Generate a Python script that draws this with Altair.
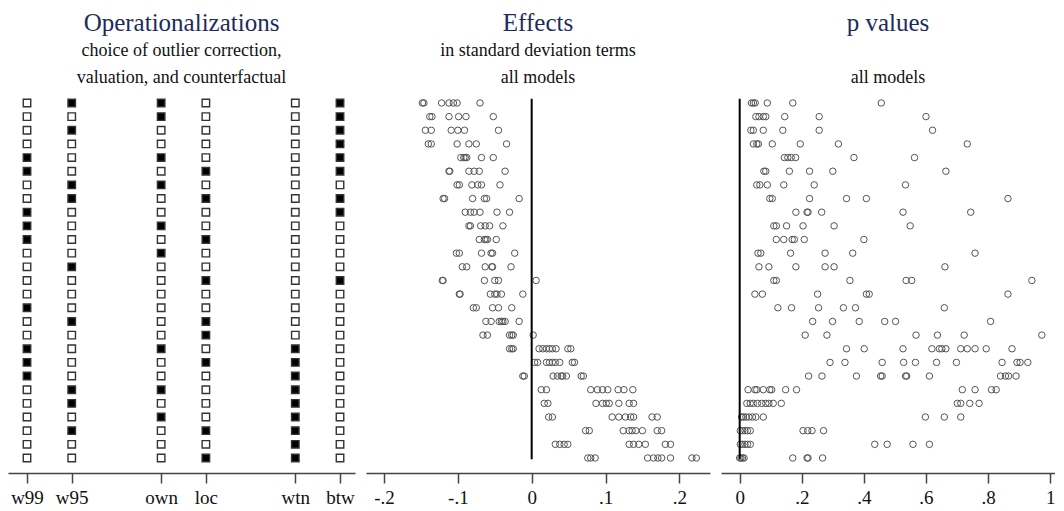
import altair as alt
import pandas as pd

# ---------------- data ----------------
ops_labels = ["w99", "w95", "own", "loc", "wtn", "btw"]
ops_pos = [1, 2, 4, 5, 7, 8]
w99 = [0,0,0,0,1,1,0,0,1,1,1,0,0,0, 0,1,0,0,1,1,1,0,0,0,0,0,0]
w95 = [1,0,1,0,0,0,1,1,0,0,0,0,1,0, 0,0,1,0,0,0,0,1,1,0,1,0,0]
own = [1,1,0,0,1,0,1,0,0,1,0,1,0,0, 0,0,0,0,1,0,0,1,0,1,0,0,0]
loc = [0,0,0,0,0,1,0,1,0,0,1,0,0,1, 0,0,1,1,0,1,0,0,0,0,1,0,1]
wtn = [0,0,0,0,0,0,0,0,0,0,0,0,0,0, 0,0,0,0,1,1,1,1,1,1,1,1,1]
btw = [1,1,1,1,1,1,0,1,1,0,0,0,0,1, 0,0,0,0,0,0,0,0,0,0,0,0,0]

effects = [
    [-0.148, -0.146, -0.122, -0.112, -0.106, -0.101, -0.070],
    [-0.138, -0.135, -0.112, -0.099, -0.089, -0.052],
    [-0.144, -0.136, -0.109, -0.100, -0.091, -0.045],
    [-0.140, -0.136, -0.101, -0.085, -0.075, -0.034],
    [-0.096, -0.092, -0.090, -0.088, -0.068, -0.052],
    [-0.112, -0.111, -0.085, -0.078, -0.071, -0.036],
    [-0.101, -0.098, -0.081, -0.073, -0.068, -0.043],
    [-0.120, -0.118, -0.080, -0.064, -0.061, -0.017],
    [-0.090, -0.083, -0.078, -0.070, -0.047, -0.030],
    [-0.085, -0.083, -0.069, -0.063, -0.057, -0.039],
    [-0.071, -0.064, -0.062, -0.060, -0.048],
    [-0.102, -0.098, -0.068, -0.055, -0.053, -0.023],
    [-0.094, -0.088, -0.063, -0.054, -0.053, -0.028],
    [-0.121, -0.120, -0.064, -0.050, -0.045, 0.006],
    [-0.098, -0.097, -0.056, -0.050, -0.047, -0.041, -0.012],
    [-0.079, -0.075, -0.053, -0.045, -0.027],
    [-0.062, -0.055, -0.044, -0.041, -0.039, -0.036, -0.017],
    [-0.066, -0.060, -0.030, -0.027, -0.025, 0.002],
    [-0.030, -0.027, -0.025, 0.010, 0.015, 0.020, 0.024, 0.028, 0.033, 0.049, 0.053],
    [0.004, 0.008, 0.020, 0.024, 0.028, 0.032, 0.038, 0.055, 0.058],
    [-0.012, -0.010, 0.029, 0.035, 0.040, 0.042, 0.047, 0.067, 0.070],
    [0.013, 0.020, 0.080, 0.089, 0.096, 0.103, 0.117, 0.125, 0.137],
    [0.017, 0.022, 0.087, 0.096, 0.101, 0.105, 0.118, 0.132, 0.138],
    [0.023, 0.028, 0.109, 0.118, 0.127, 0.134, 0.138, 0.163, 0.170],
    [0.073, 0.078, 0.124, 0.132, 0.136, 0.141, 0.150, 0.170, 0.176],
    [0.032, 0.038, 0.044, 0.049, 0.132, 0.138, 0.145, 0.154, 0.181, 0.188],
    [0.076, 0.080, 0.086, 0.157, 0.165, 0.171, 0.176, 0.188, 0.217, 0.223],
]

pvalues = [
    [0.038, 0.044, 0.050, 0.089, 0.171, 0.456],
    [0.052, 0.062, 0.076, 0.084, 0.145, 0.256, 0.600],
    [0.036, 0.044, 0.076, 0.139, 0.256, 0.621],
    [0.044, 0.055, 0.060, 0.105, 0.195, 0.318, 0.733],
    [0.144, 0.155, 0.166, 0.180, 0.368, 0.563],
    [0.078, 0.084, 0.160, 0.225, 0.300, 0.664],
    [0.055, 0.065, 0.089, 0.142, 0.240, 0.534],
    [0.097, 0.105, 0.225, 0.344, 0.408, 0.864],
    [0.181, 0.217, 0.220, 0.264, 0.526, 0.744],
    [0.110, 0.118, 0.151, 0.204, 0.304, 0.549],
    [0.118, 0.142, 0.169, 0.176, 0.208, 0.400],
    [0.059, 0.068, 0.164, 0.275, 0.364, 0.758],
    [0.062, 0.094, 0.181, 0.275, 0.304, 0.661],
    [0.110, 0.118, 0.355, 0.536, 0.554, 0.941],
    [0.049, 0.073, 0.251, 0.408, 0.417, 0.864],
    [0.123, 0.167, 0.254, 0.334, 0.373, 0.659],
    [0.235, 0.299, 0.385, 0.467, 0.502, 0.808],
    [0.211, 0.281, 0.568, 0.637, 0.723, 0.973],
    [0.344, 0.401, 0.526, 0.619, 0.643, 0.651, 0.664, 0.712, 0.733, 0.758, 0.794, 0.877],
    [0.291, 0.339, 0.459, 0.528, 0.566, 0.634, 0.698, 0.845, 0.893, 0.903, 0.928],
    [0.222, 0.265, 0.376, 0.454, 0.459, 0.534, 0.538, 0.611, 0.840, 0.856, 0.866, 0.890],
    [0.027, 0.049, 0.055, 0.076, 0.097, 0.103, 0.148, 0.183, 0.717, 0.758, 0.811, 0.826],
    [0.023, 0.034, 0.044, 0.057, 0.071, 0.084, 0.094, 0.108, 0.134, 0.701, 0.712, 0.741, 0.771],
    [0.006, 0.012, 0.020, 0.030, 0.041, 0.052, 0.076, 0.598, 0.659, 0.712],
    [0.002, 0.009, 0.017, 0.025, 0.034, 0.204, 0.219, 0.233, 0.270],
    [0.002, 0.009, 0.017, 0.025, 0.034, 0.435, 0.475, 0.558, 0.611],
    [0.000, 0.004, 0.009, 0.014, 0.171, 0.217, 0.220, 0.267],
]

# ---------------- tables ----------------
ops_cols = [w99, w95, own, loc, wtn, btw]
ops_rows = []
for lab, pos, col in zip(ops_labels, ops_pos, ops_cols):
    for i, v in enumerate(col):
        ops_rows.append({"op": lab, "pos": pos, "row": i + 1, "on": v})
ops_df = pd.DataFrame(ops_rows)

eff_df = pd.DataFrame([{"row": i + 1, "v": v} for i, r in enumerate(effects) for v in r])
p_df = pd.DataFrame([{"row": i + 1, "v": v} for i, r in enumerate(pvalues) for v in r])
zero_df = pd.DataFrame([{"x": 0.0, "y1": 0.7, "y2": 27.1}])

FONT = "Liberation Serif, Times New Roman, Times, serif"
TITLE_COLOR = "#1d2b5c"
YSCALE = alt.Scale(domain=[28.1, 0.49], nice=False, zero=False)
H = 377

def ttl(text, sub):
    return alt.TitleParams(
        text=text, subtitle=sub, anchor="middle", font=FONT, fontSize=25,
        fontWeight="normal", color=TITLE_COLOR, subtitleFont=FONT,
        subtitleFontSize=18, subtitleColor="#111111", subtitleLineHeight=27,
        subtitlePadding=6, offset=9,
    )

axis_common = dict(
    grid=False, domainColor="#444444", domainWidth=1.5, tickColor="#444444",
    tickWidth=1.5, tickSize=10, labelFont=FONT, labelFontSize=19,
    labelColor="#111111", labelPadding=5, title=None,
)

label_expr = ("datum.value == 1 ? 'w99' : datum.value == 2 ? 'w95' : datum.value == 4 ? 'own' : "
              "datum.value == 5 ? 'loc' : datum.value == 7 ? 'wtn' : 'btw'")
num_expr = ("datum.value == 0 ? '0' : datum.value == 1 ? '1' : "
            "replace(replace(format(datum.value, '.1f'), '\u2212', '-'), '0.', '.')")

ops_chart = alt.Chart(ops_df).mark_square(size=56, strokeWidth=1.4, opacity=1).encode(
    x=alt.X("pos:Q", scale=alt.Scale(domain=[0.575, 8.335], nice=False, zero=False),
            axis=alt.Axis(values=ops_pos, labelExpr=label_expr, **axis_common)),
    y=alt.Y("row:Q", scale=YSCALE, axis=None),
    fill=alt.condition("datum.on == 1", alt.value("#000000"), alt.value("#ffffff")),
    stroke=alt.value("#333333"),
).properties(width=347, height=H, title=ttl("Operationalizations",
             ["choice of outlier correction,", "valuation, and counterfactual"]))

eff_pts = alt.Chart(eff_df).mark_point(shape="circle", size=42, strokeWidth=1, filled=False,
                                       color="#555555", opacity=1).encode(
    x=alt.X("v:Q", scale=alt.Scale(domain=[-0.2244, 0.2415], nice=False, zero=False),
            axis=alt.Axis(values=[-0.2, -0.1, 0, 0.1, 0.2], labelExpr=num_expr, **axis_common)),
    y=alt.Y("row:Q", scale=YSCALE, axis=None),
)
eff_zero = alt.Chart(zero_df).mark_rule(color="#000000", strokeWidth=2).encode(
    x="x:Q", y="y1:Q", y2="y2:Q")
eff_chart = alt.layer(eff_pts, eff_zero).properties(
    width=344, height=H, title=ttl("Effects", ["in standard deviation terms", "all models"]))

p_pts = alt.Chart(p_df).mark_point(shape="circle", size=42, strokeWidth=1, filled=False,
                                   color="#555555", opacity=1).encode(
    x=alt.X("v:Q", scale=alt.Scale(domain=[-0.0602, 1.0155], nice=False, zero=False),
            axis=alt.Axis(values=[0, 0.2, 0.4, 0.6, 0.8, 1], labelExpr=num_expr, **axis_common)),
    y=alt.Y("row:Q", scale=YSCALE, axis=None),
)
p_zero = alt.Chart(zero_df).mark_rule(color="#000000", strokeWidth=2).encode(
    x="x:Q", y="y1:Q", y2="y2:Q")
p_chart = alt.layer(p_pts, p_zero).properties(
    width=334, height=H, title=ttl("p values", [" ", "all models"]))

chart = alt.hconcat(ops_chart, eff_chart, p_chart, spacing=11).properties(
    padding={"left": 0, "top": 3, "right": 0, "bottom": 0},
    background="#ffffff",
).configure_view(stroke=None)

chart.save("out.html", embed_options={"renderer": "svg", "actions": False})
